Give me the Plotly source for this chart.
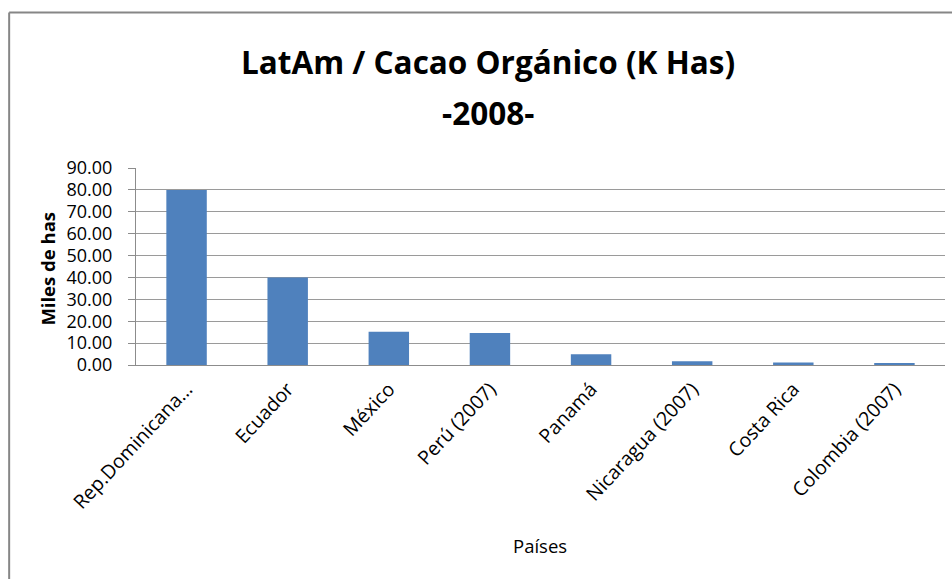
import plotly.graph_objects as go

paises = ["Rep.Dominicana…", "Ecuador", "México", "Perú (2007)", "Panamá",
          "Nicaragua (2007)", "Costa Rica", "Colombia (2007)"]
miles_has = [80.0, 40.0, 15.2, 14.6, 4.9, 1.7, 1.1, 0.6]
y_ticks = [0, 10, 20, 30, 40, 50, 60, 70, 80, 90]

W, H = 952, 579
L, R, T, B = 135.5, 6.5, 168, 214
pw, ph = W - L - R, H - T - B

def px_x(x):
    return (x - L) / pw

def px_y(y):
    return (H - B - y) / ph

FONT = "Open Sans, Noto Sans, sans-serif"

fig = go.Figure(go.Bar(x=paises, y=miles_has, marker=dict(color="#4F81BD", line=dict(width=0))))

fig.update_layout(
    width=W, height=H,
    margin=dict(l=L, r=R, t=T, b=B),
    paper_bgcolor="white", plot_bgcolor="white",
    bargap=0.6,
    showlegend=False,
    font=dict(family=FONT, color="#000000"),
    xaxis=dict(
        tickangle=-47, tickfont=dict(size=19.5, family=FONT, color="#000"),
        showgrid=False, showline=True, linecolor="#8c8c8c", linewidth=1,
        ticks="", automargin=False, ticklabelstandoff=4,
    ),
    yaxis=dict(
        range=[0, 90], tickvals=y_ticks, tickformat=".2f",
        tickfont=dict(size=18, family=FONT, color="#000"),
        showgrid=True, gridcolor="#9a9a9a", gridwidth=1,
        showline=True, linecolor="#8c8c8c", linewidth=1,
        ticks="outside", ticklen=7, tickcolor="#8c8c8c",
        zeroline=False, automargin=False, ticklabelstandoff=12,
    ),
    annotations=[
        dict(text="<b>LatAm / Cacao Orgánico (K Has)</b>", x=px_x(487.5), y=px_y(62),
             xref="paper", yref="paper", showarrow=False, xanchor="center", yanchor="middle",
             font=dict(size=31.5, family=FONT, color="#000")),
        dict(text="<b>-2008-</b>", x=px_x(487.5), y=px_y(112),
             xref="paper", yref="paper", showarrow=False, xanchor="center", yanchor="middle",
             font=dict(size=31.5, family=FONT, color="#000")),
        dict(text="<b>Miles de has</b>", x=px_x(46), y=px_y(269), textangle=-90,
             xref="paper", yref="paper", showarrow=False, xanchor="center", yanchor="middle",
             font=dict(size=18.5, family=FONT, color="#000")),
        dict(text="Países", x=px_x(540), y=px_y(545),
             xref="paper", yref="paper", showarrow=False, xanchor="center", yanchor="middle",
             font=dict(size=18.5, family=FONT, color="#000")),
    ],
    shapes=[
        dict(type="line", xref="paper", yref="paper",
             x0=px_x(8.5), x1=px_x(8.5), y0=px_y(600), y1=px_y(12.5),
             line=dict(color="#868686", width=2)),
        dict(type="line", xref="paper", yref="paper",
             x0=px_x(8.5), x1=px_x(1000), y0=px_y(12.5), y1=px_y(12.5),
             line=dict(color="#868686", width=2)),
    ],
)

fig.write_html("out.html", config={"displayModeBar": False},
               post_script="document.body.style.margin='0';document.body.style.padding='0';")
